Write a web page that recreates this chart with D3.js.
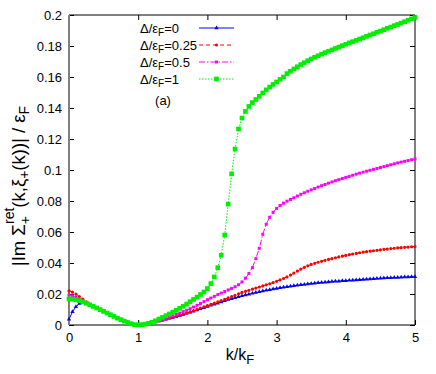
<!DOCTYPE html>
<html>
<head>
<meta charset="utf-8">
<script src="https://cdn.jsdelivr.net/npm/d3@7"></script>
<style>
  body { margin: 0; background: #fff; }
  text { font-family: "Liberation Sans", Arial, sans-serif; }
</style>
</head>
<body>
<svg width="436" height="374"></svg>
<script>
// k/kF grid, every 0.05
const kValues = d3.range(0, 101).map(i => i / 20);

// |Im Sigma| / eF, one list per gap value
const gap0 = [
  0.0037, 0.0085, 0.0118, 0.0138, 0.0145, 0.0142, 0.0132, 0.0120, 0.0110, 0.0099,
  0.0088, 0.0077, 0.0066, 0.0055, 0.0044, 0.0034, 0.0025, 0.0016, 0.0008, 0.0002,
  0.0000, 0.0002, 0.0006, 0.0010, 0.0015, 0.0020, 0.0025, 0.0031, 0.0037, 0.0043,
  0.0049, 0.0055, 0.0061, 0.0068, 0.0075, 0.0082, 0.0089, 0.0096, 0.0104, 0.0112,
  0.0120, 0.0127, 0.0134, 0.0141, 0.0149, 0.0157, 0.0164, 0.0170, 0.0176, 0.0182,
  0.0188, 0.0194, 0.0199, 0.0204, 0.0209, 0.0214, 0.0219, 0.0224, 0.0228, 0.0232,
  0.0236, 0.0240, 0.0243, 0.0247, 0.0250, 0.0253, 0.0256, 0.0259, 0.0262, 0.0265,
  0.0267, 0.0270, 0.0272, 0.0274, 0.0276, 0.0278, 0.0280, 0.0282, 0.0283, 0.0285,
  0.0286, 0.0288, 0.0289, 0.0291, 0.0292, 0.0294, 0.0295, 0.0297, 0.0298, 0.0300,
  0.0301, 0.0303, 0.0304, 0.0305, 0.0306, 0.0307, 0.0308, 0.0309, 0.0310, 0.0311,
  0.0312
];
const gap025 = [
  0.0220, 0.0212, 0.0199, 0.0184, 0.0167, 0.0150, 0.0134, 0.0120, 0.0110, 0.0099,
  0.0088, 0.0077, 0.0066, 0.0055, 0.0044, 0.0034, 0.0025, 0.0016, 0.0008, 0.0002,
  0.0000, 0.0002, 0.0006, 0.0010, 0.0015, 0.0020, 0.0026, 0.0032, 0.0038, 0.0044,
  0.0050, 0.0056, 0.0063, 0.0070, 0.0077, 0.0084, 0.0092, 0.0100, 0.0108, 0.0117,
  0.0125, 0.0133, 0.0141, 0.0149, 0.0158, 0.0166, 0.0175, 0.0183, 0.0192, 0.0201,
  0.0210, 0.0217, 0.0224, 0.0231, 0.0238, 0.0245, 0.0252, 0.0259, 0.0266, 0.0274,
  0.0282, 0.0291, 0.0300, 0.0310, 0.0322, 0.0335, 0.0348, 0.0361, 0.0372, 0.0382,
  0.0391, 0.0398, 0.0405, 0.0411, 0.0417, 0.0423, 0.0428, 0.0434, 0.0439, 0.0444,
  0.0449, 0.0454, 0.0458, 0.0462, 0.0466, 0.0470, 0.0473, 0.0476, 0.0479, 0.0482,
  0.0485, 0.0488, 0.0490, 0.0493, 0.0495, 0.0497, 0.0499, 0.0501, 0.0503, 0.0505,
  0.0506
];
const gap05 = [
  0.0194, 0.0188, 0.0179, 0.0167, 0.0155, 0.0143, 0.0131, 0.0120, 0.0110, 0.0099,
  0.0088, 0.0077, 0.0066, 0.0055, 0.0044, 0.0034, 0.0025, 0.0016, 0.0008, 0.0002,
  0.0000, 0.0002, 0.0006, 0.0011, 0.0017, 0.0023, 0.0030, 0.0037, 0.0044, 0.0052,
  0.0060, 0.0068, 0.0077, 0.0086, 0.0095, 0.0105, 0.0116, 0.0127, 0.0139, 0.0151,
  0.0163, 0.0174, 0.0185, 0.0196, 0.0206, 0.0216, 0.0226, 0.0236, 0.0247, 0.0260,
  0.0278, 0.0302, 0.0333, 0.0370, 0.0428, 0.0495, 0.0585, 0.0650, 0.0695, 0.0727,
  0.0752, 0.0771, 0.0786, 0.0799, 0.0810, 0.0821, 0.0832, 0.0843, 0.0853, 0.0863,
  0.0872, 0.0881, 0.0890, 0.0899, 0.0907, 0.0915, 0.0923, 0.0931, 0.0938, 0.0945,
  0.0952, 0.0959, 0.0966, 0.0973, 0.0980, 0.0986, 0.0992, 0.0998, 0.1004, 0.1010,
  0.1016, 0.1022, 0.1028, 0.1034, 0.1040, 0.1046, 0.1051, 0.1056, 0.1061, 0.1066,
  0.1071
];
const gap1 = [
  0.0168, 0.0167, 0.0163, 0.0157, 0.0149, 0.0140, 0.0130, 0.0120, 0.0110, 0.0099,
  0.0088, 0.0077, 0.0066, 0.0055, 0.0044, 0.0034, 0.0025, 0.0016, 0.0008, 0.0002,
  0.0000, 0.0002, 0.0005, 0.0010, 0.0017, 0.0027, 0.0038, 0.0049, 0.0060, 0.0071,
  0.0083, 0.0095, 0.0108, 0.0121, 0.0135, 0.0150, 0.0165, 0.0180, 0.0197, 0.0213,
  0.0235, 0.0267, 0.0310, 0.0370, 0.0450, 0.0580, 0.0780, 0.0975, 0.1135, 0.1265,
  0.1335, 0.1378, 0.1410, 0.1435, 0.1455, 0.1475, 0.1497, 0.1517, 0.1535, 0.1552,
  0.1568, 0.1585, 0.1600, 0.1622, 0.1637, 0.1652, 0.1666, 0.1680, 0.1692, 0.1705,
  0.1716, 0.1727, 0.1737, 0.1747, 0.1757, 0.1766, 0.1775, 0.1784, 0.1793, 0.1802,
  0.1811, 0.1820, 0.1828, 0.1836, 0.1845, 0.1853, 0.1862, 0.1871, 0.1879, 0.1888,
  0.1896, 0.1905, 0.1914, 0.1922, 0.1931, 0.1939, 0.1948, 0.1957, 0.1966, 0.1975,
  0.1984
];

const seriesLabels = ['0', '0.25', '0.5', '1'];
const xTicks = [0, 1, 2, 3, 4, 5];
const yTicks = [0, 0.02, 0.04, 0.06, 0.08, 0.1, 0.12, 0.14, 0.16, 0.18, 0.2];

const series = [
  { label: seriesLabels[0], values: gap0, color: '#0000ff', dash: null, symbol: d3.symbolTriangle, size: 8 },
  { label: seriesLabels[1], values: gap025, color: '#ff0000', dash: '4,3', symbol: d3.symbolCircle, size: 8 },
  { label: seriesLabels[2], values: gap05, color: '#ff00ff', dash: '6,2,1.5,2', symbol: d3.symbolSquare, size: 9 },
  { label: seriesLabels[3], values: gap1, color: '#00ee00', dash: '1.5,1.5', symbol: d3.symbolSquare, size: 22 },
];

const svg = d3.select('svg');
const plotL = 69, plotR = 415, plotT = 15, plotB = 325;

const x = d3.scaleLinear().domain([0, 5]).range([plotL, plotR]);
const y = d3.scaleLinear().domain([0, 0.2]).range([plotB, plotT]);

// axes (ticks drawn inward, like gnuplot)
const fmt = d3.format('~g');
svg.append('g')
  .attr('transform', `translate(0,${plotB})`)
  .call(d3.axisBottom(x).tickValues(xTicks).tickSize(-5).tickPadding(8).tickFormat(fmt));
svg.append('g')
  .attr('transform', `translate(0,${plotT})`)
  .call(d3.axisTop(x).tickValues(xTicks).tickSize(-5).tickFormat(''));
svg.append('g')
  .attr('transform', `translate(${plotL},0)`)
  .call(d3.axisLeft(y).tickValues(yTicks).tickSize(-5).tickPadding(7).tickFormat(fmt));
svg.append('g')
  .attr('transform', `translate(${plotR},0)`)
  .call(d3.axisRight(y).tickValues(yTicks).tickSize(-5).tickFormat(''));

svg.selectAll('.domain').remove();
svg.selectAll('.tick text')
  .attr('fill', '#000')
  .style('font-size', '13px')
  .style('font-family', '"Liberation Sans", Arial, sans-serif');
svg.selectAll('.tick line').attr('stroke', '#000');

// border
svg.append('path')
  .attr('d', `M${plotL},${plotT}H${plotR}V${plotB}H${plotL}`)
  .attr('fill', 'none').attr('stroke', '#000').attr('stroke-width', 1);
svg.append('line')
  .attr('x1', plotL).attr('x2', plotL).attr('y1', plotT).attr('y2', plotB)
  .attr('stroke', '#808080').attr('stroke-width', 2);

// curves
const line = d3.line().x((d, i) => x(kValues[i])).y(d => y(d));
series.forEach((s) => {
  const g = svg.append('g');
  g.append('path')
    .datum(s.values)
    .attr('d', line)
    .attr('fill', 'none')
    .attr('stroke', s.color)
    .attr('stroke-width', 1)
    .attr('stroke-dasharray', s.dash);
  g.selectAll('path.pt')
    .data(s.values)
    .join('path')
    .attr('class', 'pt')
    .attr('transform', (d, i) => `translate(${x(kValues[i])},${y(d)})`)
    .attr('d', d3.symbol().type(s.symbol).size(s.size))
    .attr('fill', s.color);
});

// legend
const leg = svg.append('g');
series.forEach((s, i) => {
  const cy = 28 + i * 17;
  const t = leg.append('text')
    .attr('x', 140).attr('y', cy + 4.5)
    .style('font-size', '13px');
  t.append('tspan').text('\u0394/\u03b5');
  t.append('tspan').attr('dy', 3).style('font-size', '10px').text('F');
  t.append('tspan').attr('dy', -3).text('=' + s.label);
  leg.append('line')
    .attr('x1', 199).attr('x2', 234).attr('y1', cy).attr('y2', cy)
    .attr('stroke', s.color).attr('stroke-dasharray', s.dash);
  leg.append('path')
    .attr('transform', `translate(216.5,${cy})`)
    .attr('d', d3.symbol().type(s.symbol).size(s.size))
    .attr('fill', s.color);
});
svg.append('text')
  .attr('x', 163).attr('y', 105)
  .attr('text-anchor', 'middle')
  .style('font-size', '13px')
  .text('(a)');

// axis labels
const xl = svg.append('text')
  .attr('x', 240).attr('y', 360)
  .attr('text-anchor', 'middle')
  .style('font-size', '16px');
xl.append('tspan').text('k/k');
xl.append('tspan').attr('dy', 4).style('font-size', '13px').text('F');

const yl = svg.append('text')
  .attr('transform', 'translate(25,186) rotate(-90)')
  .attr('text-anchor', 'middle')
  .style('font-size', '18.5px');
yl.append('tspan').text('|Im \u03a3');
yl.append('tspan').attr('dy', 5).style('font-size', '14px').text('+');
yl.append('tspan').attr('dx', -8).attr('dy', -16).style('font-size', '14px').text('ret');
yl.append('tspan').attr('dy', 11).text('(k,\u03be');
yl.append('tspan').attr('dy', 4).style('font-size', '14px').text('+');
yl.append('tspan').attr('dy', -4).text('(k))| / \u03b5');
yl.append('tspan').attr('dy', 4).style('font-size', '14px').text('F');
</script>
</body>
</html>
